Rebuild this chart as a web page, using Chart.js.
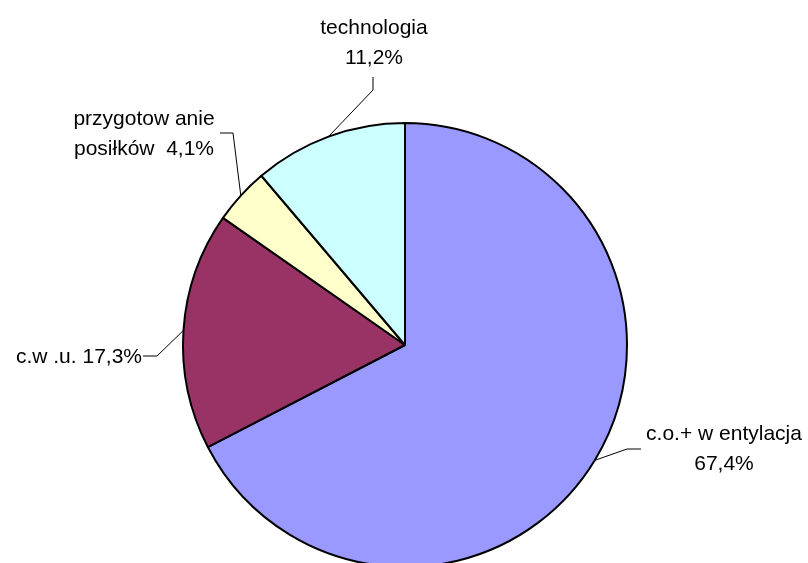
<!DOCTYPE html>
<html lang="pl">
<head>
    <meta charset="UTF-8">
    <title>Struktura zużycia energii</title>
    <script src="https://cdn.jsdelivr.net/npm/chart.js"></script>
    <style>
        html, body {
            margin: 0;
            padding: 0;
            background: #ffffff;
            overflow: hidden;
        }
        .wrap {
            width: 808px;
            height: 563px;
            overflow: hidden;
        }
    </style>
</head>
<body>

    <div class="wrap">
        <canvas id="pieChart" width="808" height="690"></canvas>
    </div>

    <script>
        // udział poszczególnych odbiorów ciepła (%)
        const categories = ['c.o.+ w entylacja', 'c.w .u.', 'przygotow anie posiłków', 'technologia'];
        const shares = [67.4, 17.3, 4.1, 11.2];
        const sliceColors = ['#9999FF', '#993366', '#FFFFCC', '#CCFFFF'];

        // opisy: wiersze tekstu (procent wstawiany z danych), pozycja i łamana linia odnośnika
        const labelRows = [
            ['c.o.+ w entylacja', '{v}'],
            ['c.w .u. {v}'],
            ['przygotow anie', 'posiłków  {v}'],
            ['technologia', '{v}']
        ];
        const labelBoxes = [
            { x: 724, y: 440, align: 'center', line: [[641, 449], [627, 449]] },
            { x: 142, y: 363, align: 'right',  line: [[143, 356], [157, 356]] },
            { x: 144, y: 125, align: 'center', line: [[220, 133], [233, 133]] },
            { x: 374, y: 34,  align: 'center', line: [[373, 77], [373, 90]] }
        ];

        function fmt(v) {
            return v.toFixed(1).replace('.', ',') + '%';
        }

        // etykiety z odnośnikami do środka łuku każdego wycinka
        const leaderLabels = {
            id: 'leaderLabels',
            afterDatasetsDraw(chart) {
                const ctx = chart.ctx;
                const arcs = chart.getDatasetMeta(0).data;
                ctx.save();
                ctx.font = '21px "Liberation Sans", Arial, sans-serif';
                ctx.fillStyle = '#000000';
                ctx.textBaseline = 'alphabetic';
                arcs.forEach((arc, i) => {
                    const box = labelBoxes[i];
                    const mid = (arc.startAngle + arc.endAngle) / 2;
                    const ex = arc.x + Math.cos(mid) * arc.outerRadius;
                    const ey = arc.y + Math.sin(mid) * arc.outerRadius;

                    ctx.strokeStyle = '#000000';
                    ctx.lineWidth = 1;
                    ctx.beginPath();
                    ctx.moveTo(box.line[0][0], box.line[0][1]);
                    ctx.lineTo(box.line[1][0], box.line[1][1]);
                    ctx.lineTo(ex, ey);
                    ctx.stroke();

                    ctx.textAlign = box.align;
                    labelRows[i].forEach((row, k) => {
                        ctx.fillText(row.replace('{v}', fmt(shares[i])), box.x, box.y + k * 30);
                    });
                });
                ctx.restore();
            }
        };

        new Chart(document.getElementById('pieChart'), {
            type: 'pie',
            data: {
                labels: categories,
                datasets: [{
                    data: shares,
                    backgroundColor: sliceColors,
                    borderColor: '#000000',
                    borderWidth: 2
                }]
            },
            options: {
                responsive: false,
                animation: false,
                layout: {
                    padding: { left: 182, right: 180, top: 122, bottom: 122 }
                },
                plugins: {
                    legend: { display: false },
                    tooltip: { enabled: false }
                }
            },
            plugins: [leaderLabels]
        });
    </script>

</body>
</html>
